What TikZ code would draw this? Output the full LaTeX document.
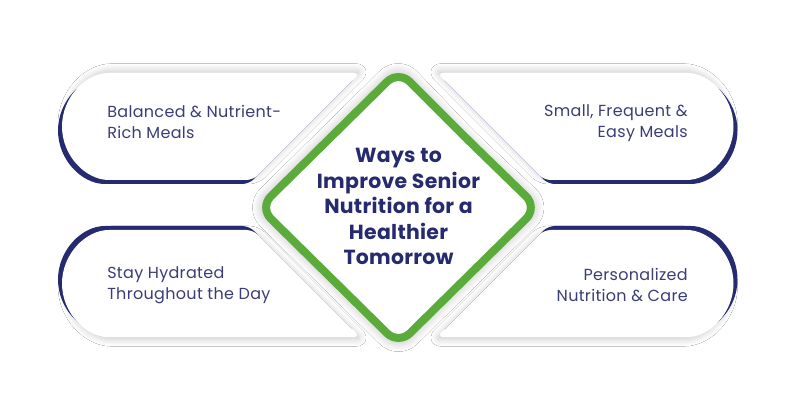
\documentclass[tikz,border=0pt]{standalone}
\usepackage{fontspec}
\setmainfont{Poppins}
\usetikzlibrary{shadows.blur}
\definecolor{navy}{HTML}{262A6E}
\definecolor{txtnavy}{HTML}{3A3D78}
\definecolor{leaf}{HTML}{5AAB3A}
\newfontfamily\cardfont[LetterSpace=2]{Poppins}
\newfontfamily\titlefont[LetterSpace=1.5]{Poppins}
\newcommand\tlpath{(200,344) -- (360,344) -- (253,237) -- (115.5,237) arc[start angle=270,end angle=90,radius=53.5] -- cycle}
\newcommand\trpath{(560,344) -- (680,344) arc[start angle=90,end angle=-90,radius=53.5] -- (544,237) -- (437,344) -- cycle}
\newcommand\blpath{(200,187) -- (253,187) -- (360,80) -- (115.5,80) arc[start angle=270,end angle=90,radius=53.5] -- cycle}
\newcommand\brpath{(600,187) -- (680,187) arc[start angle=90,end angle=-90,radius=53.5] -- (437,80) -- (544,187) -- cycle}
\tikzset{
  cardshadow/.style 2 args={fill=white, rounded corners=5pt, blur shadow={shadow xshift=#1, shadow yshift=#2, shadow blur radius=5pt, shadow opacity=20, shadow blur steps=10}},
  cardback/.style={fill=navy, rounded corners=5pt},
  cardface/.style={fill=white, rounded corners=5pt},
  cardtext/.style={inner sep=0pt, text=txtnavy, font=\cardfont\fontsize{12}{15.75}\selectfont},
  titletext/.style={inner sep=0pt, align=center, text=navy, font=\titlefont\fontsize{15.3}{19.1}\selectfont\bfseries},
}
\begin{document}
\begin{tikzpicture}[x=0.75pt,y=0.75pt]
\useasboundingbox (0,0) rectangle (800,417);
\fill[white] (0,0) rectangle (800,417);
% shadows
\path[cardshadow={2pt}{2pt}] \tlpath;
\path[cardshadow={-2pt}{2pt}] \trpath;
\path[cardshadow={2pt}{-2pt}] \blpath;
\path[cardshadow={-2pt}{-2pt}] \brpath;
% navy backs
\begin{scope}[shift={(-4,-4)}]\path[cardback] \tlpath;\end{scope}
\begin{scope}[shift={(4,-4)}]\path[cardback] \trpath;\end{scope}
\begin{scope}[shift={(-4,4)}]\path[cardback] \blpath;\end{scope}
\begin{scope}[shift={(4,4)}]\path[cardback] \brpath;\end{scope}
% faces
\path[cardface] \tlpath;
\path[cardface] \trpath;
\path[cardface] \blpath;
\path[cardface] \brpath;
% diamond
\path[fill=white, rounded corners=12pt, blur shadow={shadow xshift=0pt, shadow yshift=0pt, shadow blur radius=8pt, shadow opacity=30, shadow blur steps=10}]
  (467.5,277.5) -- (540,209.5) -- (398.5,69.5) -- (256.5,209.5) -- (398.5,349.5) -- cycle;
\draw[leaf, line width=6pt, rounded corners=12pt, fill=white]
  (467.5,277.5) -- (537.5,209.5) -- (398.5,72.5) -- (259.5,209.5) -- (398.5,346.5) -- cycle;
% texts
\node[titletext] (title) at (398.5,210.5) {Ways to\\Improve Senior\\Nutrition for a\\Healthier\\Tomorrow};
\node[cardtext, anchor=west, align=left] (tl) at (107,295) {Balanced \& Nutrient-\\Rich Meals};
\node[cardtext, anchor=east, align=right] (tr) at (688,293.5) {Small, Frequent \&\\Easy Meals};
\node[cardtext, anchor=west, align=left] (bl) at (107,131.5) {Stay Hydrated\\Throughout the Day};
\node[cardtext, anchor=east, align=right] (br) at (688,131.5) {Personalized\\Nutrition \& Care};
\end{tikzpicture}
\end{document}
